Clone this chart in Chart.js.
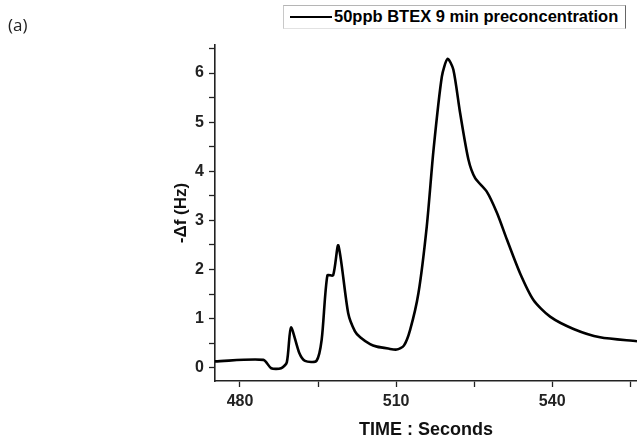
<!DOCTYPE html>
<html>
<head>
<meta charset="utf-8">
<script src="https://cdn.jsdelivr.net/npm/chart.js@4.4.1/dist/chart.umd.min.js"></script>
<style>
  html, body { margin: 0; padding: 0; background: #fff; }
  #wrap { position: relative; width: 637px; height: 444px; overflow: hidden; }
  #panel { position: absolute; left: 8px; top: 13px; font: 17px "Open Sans", "Liberation Sans", sans-serif; color: #222; }
  #legendBox {
    position: absolute; left: 283px; top: 5px; width: 341px; height: 22px;
    border-top: 1px solid #b5b5b5; border-left: 1px solid #c8c8c8;
    border-right: 1px solid #666; border-bottom: 1px solid #e2e2e2;
    background: #fff;
  }
  #legendBox .swatch { position: absolute; left: 6px; top: 10px; width: 42px; height: 0; border-top: 2.5px solid #000; }
  #legendBox .txt { position: absolute; left: 50px; top: 1px; font: bold 16.5px "Liberation Sans", Arial, sans-serif; color: #000; white-space: nowrap; }
</style>
</head>
<body>
<div id="wrap">
  <canvas id="chart1" width="637" height="444"></canvas>
  <div id="panel">(a)</div>
  <div id="legendBox"><span class="swatch"></span><span class="txt" id="legendText"></span></div>
</div>
<script>
// time (s) and -delta f (Hz)
const timeSec = [475.2, 484.5, 486.0, 487.9, 489.0, 489.8, 491.4, 492.5, 494.7, 495.7, 496.8,
  497.9, 498.9, 500.8, 502.1, 503.1, 505.0, 506.3, 508.5, 510.1, 511.5, 512.7, 514.3, 515.9,
  517.2, 518.8, 519.9, 521.0, 522.3, 523.9, 525.2, 527.4, 529.4, 531.3, 533.8, 536.4, 539.6,
  544.1, 549.2, 556.3];
const deltaF = [0.13, 0.16, -0.01, -0.01, 0.11, 0.82, 0.30, 0.14, 0.14, 0.57, 1.88,
  1.88, 2.49, 1.11, 0.74, 0.62, 0.48, 0.43, 0.39, 0.37, 0.45, 0.77, 1.52, 2.88,
  4.44, 5.93, 6.29, 6.07, 5.19, 4.24, 3.86, 3.59, 3.15, 2.61, 1.93, 1.38, 1.04,
  0.79, 0.62, 0.54];
const seriesLabel = "50ppb BTEX 9 min preconcentration";
const xTicks = [480, 495, 510, 525, 540, 555];
const xLabelTicks = [480, 510, 540];
const yTicks = [0, 0.5, 1, 1.5, 2, 2.5, 3, 3.5, 4, 4.5, 5, 5.5, 6, 6.5];

document.getElementById("legendText").textContent = seriesLabel;

const points = timeSec.map((t, i) => ({ x: t, y: deltaF[i] }));

const tickFont = { family: "'Liberation Sans', Arial, sans-serif", size: 16, weight: "bold" };

var ctx = document.getElementById("chart1").getContext("2d");
var myChart = new Chart(ctx, {
  type: "line",
  data: {
    datasets: [
      {
        label: seriesLabel,
        data: points,
        borderColor: "#000",
        borderWidth: 2.6,
        pointRadius: 0,
        tension: 0.25,
        fill: false,
      },
    ],
  },
  options: {
    responsive: false,
    animation: false,
    layout: {
      padding: { left: 160, top: 45, right: 0, bottom: 0 },
    },
    plugins: {
      legend: { display: false },
      tooltip: { enabled: false },
    },
    scales: {
      x: {
        type: "linear",
        min: 475.2,
        max: 556.3,
        afterBuildTicks: (scale) => {
          scale.ticks = xTicks.map((v) => ({ value: v }));
        },
        afterFit: (scale) => {
          scale.height = 63;
        },
        grid: {
          drawOnChartArea: false,
          drawTicks: true,
          tickLength: 6,
          tickWidth: 1.3,
          tickColor: "#222",
        },
        border: { display: true, color: "#222", width: 1.6 },
        ticks: {
          color: "#222",
          font: tickFont,
          padding: 5,
          maxRotation: 0,
          autoSkip: false,
          callback: (v) => (xLabelTicks.includes(v) ? String(v) : ""),
        },
        title: {
          display: true,
          text: "TIME : Seconds",
          color: "#111",
          font: { family: "'Liberation Sans', Arial, sans-serif", size: 18, weight: "bold" },
          padding: { top: 0, bottom: 3 },
        },
      },
      y: {
        type: "linear",
        min: -0.27,
        max: 6.57,
        afterBuildTicks: (scale) => {
          scale.ticks = yTicks.map((v) => ({ value: v }));
        },
        afterFit: (scale) => {
          scale.width = 55;
        },
        grid: {
          drawOnChartArea: false,
          drawTicks: true,
          tickLength: 6,
          tickWidth: 1.3,
          tickColor: "#222",
        },
        border: { display: true, color: "#222", width: 1.6 },
        ticks: {
          color: "#222",
          font: tickFont,
          padding: 5,
          autoSkip: false,
          callback: (v) => (Number.isInteger(v) ? String(v) : ""),
        },
        title: {
          display: true,
          text: "-\u0394f (Hz)",
          color: "#111",
          font: { family: "'Liberation Sans', Arial, sans-serif", size: 17, weight: "bold" },
          padding: { top: 11, bottom: 0 },
        },
      },
    },
  },
});
</script>
</body>
</html>
